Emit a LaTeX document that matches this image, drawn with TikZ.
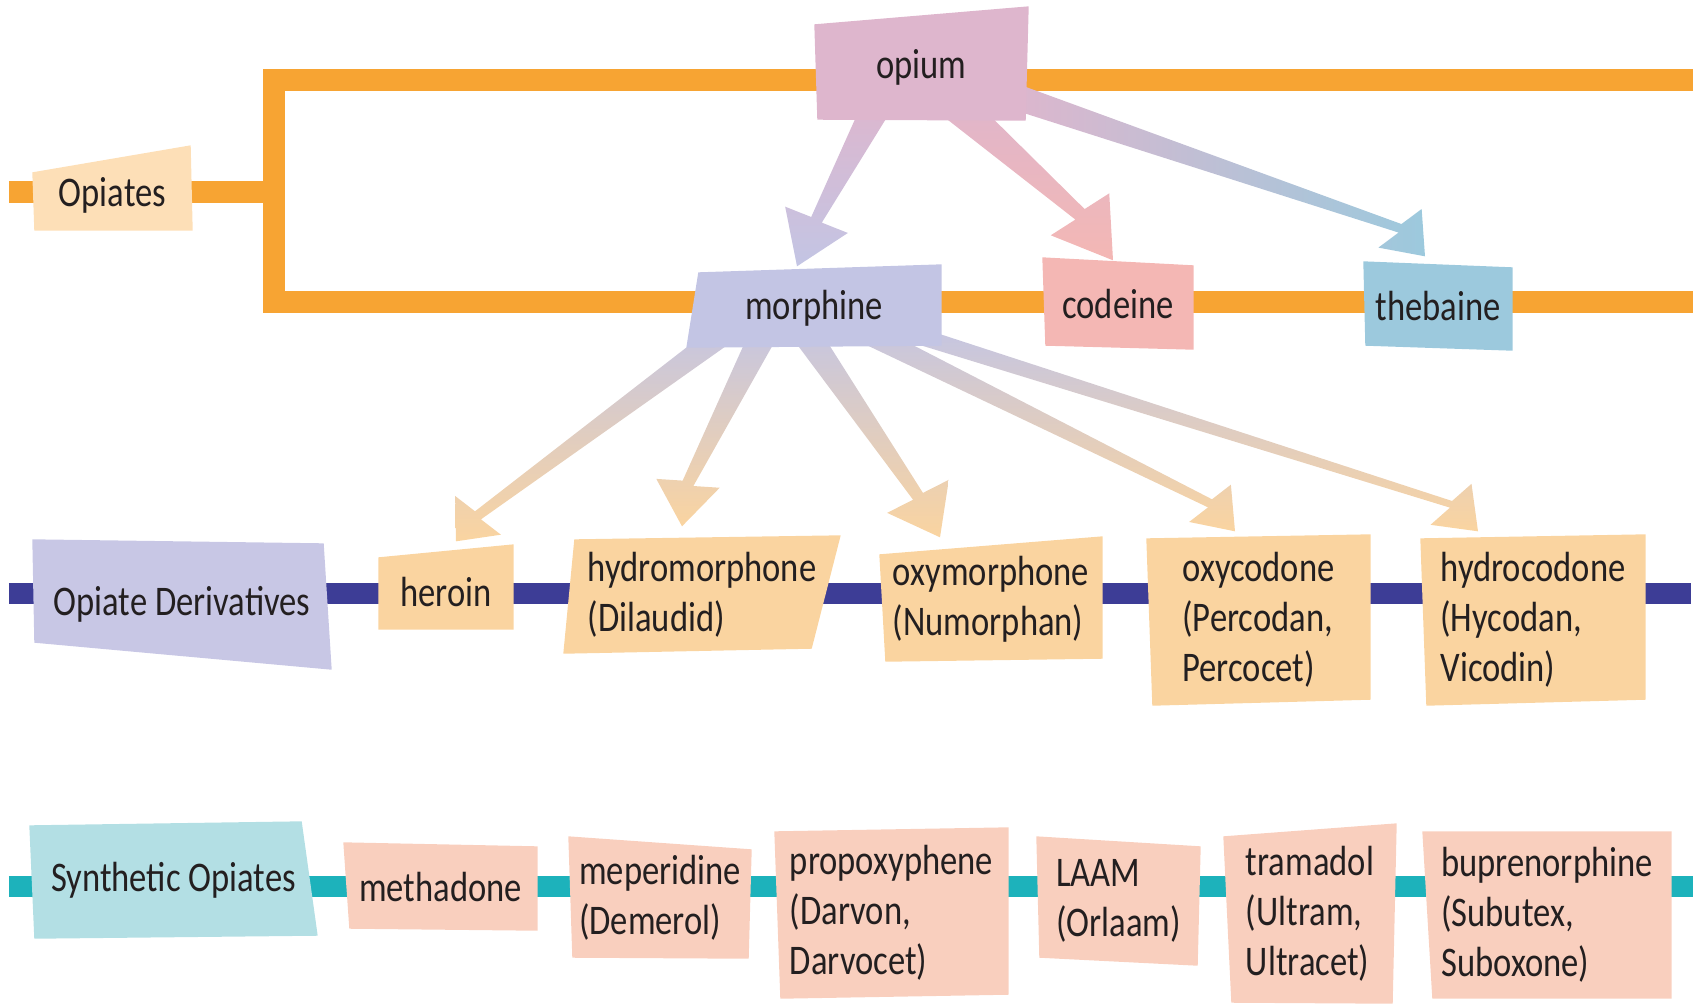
\documentclass[tikz,border=0pt]{standalone}
\usepackage{fontspec}
\setmainfont{Carlito}[FakeStretch=0.82]
\usetikzlibrary{calc}

\definecolor{railorange}{HTML}{F7A433}
\definecolor{railblue}{HTML}{3D3D96}
\definecolor{railteal}{HTML}{1DB2BB}
\definecolor{opiatesc}{HTML}{FDDFB7}
\definecolor{opiumc}{HTML}{DEB6CD}
\definecolor{morphc}{HTML}{C3C5E4}
\definecolor{codeinec}{HTML}{F4B7B4}
\definecolor{thebainec}{HTML}{9CC9DD}
\definecolor{derivc}{HTML}{C8C7E5}
\definecolor{derivboxc}{HTML}{FAD4A0}
\definecolor{synthc}{HTML}{B3DFE4}
\definecolor{synthboxc}{HTML}{F9CFBE}
\definecolor{inkc}{HTML}{231F20}

\pgfdeclarelayer{bars}
\pgfdeclarelayer{arrows}
\pgfdeclarelayer{boxes}
\pgfsetlayers{bars,arrows,boxes,main}

% slanted box behind a node: node, colour, corner shifts NW NE SE SW
\newcommand\skewbox[6]{%
  \begin{pgfonlayer}{boxes}
    \fill[#2] ($(#1.north west)+#3$) -- ($(#1.north east)+#4$)
      -- ($(#1.south east)+#5$) -- ($(#1.south west)+#6$) -- cycle;
  \end{pgfonlayer}}

% tapered arrow: shading, start, tip, head base (from tip), tail, neck, head half widths
\newcommand\fatarrow[7]{%
  \begin{pgfonlayer}{arrows}
    \coordinate (fa-s) at #2;
    \coordinate (fa-t) at #3;
    \coordinate (fa-b) at ($(fa-t)+#4$);
    \path[#1] ($(fa-s)!#5!90:(fa-b)$) -- ($(fa-b)!#6!-90:(fa-s)$)
      -- ($(fa-b)!#7!90:(fa-t)$) -- (fa-t) -- ($(fa-b)!#7!-90:(fa-t)$)
      -- ($(fa-b)!#6!90:(fa-s)$) -- ($(fa-s)!#5!-90:(fa-b)$) -- cycle;
  \end{pgfonlayer}}

\begin{document}
\begin{tikzpicture}[
        font=\fontsize{12}{14.2}\selectfont
    ]
    \tikzset{
        drug/.style = {align=left, inner sep=0pt, text=inkc},
        rail/.style = {line width=0.22cm, line cap=butt, line join=miter},
    }
    \useasboundingbox (0,0) rectangle (17,-10.06);
    %
    \node[drug, minimum width=1.59cm, minimum height=0.98cm] at (1.125,-1.95) (opiates) {Opiates};
    \node[drug, minimum width=2.13cm, minimum height=1.13cm] at (9.215,-0.675) (opium) {opium};
    \node[drug, minimum width=2.54cm, minimum height=0.82cm] at (8.14,-3.08) (morphine) {morphine};
    \node[drug, minimum width=1.50cm, minimum height=0.91cm] at (11.18,-3.035) (codeine) {codeine};
    \node[drug, minimum width=1.48cm, minimum height=0.88cm] at (14.38,-3.06) (thebaine) {thebaine};
    %
    \node[drug, minimum width=2.98cm, minimum height=1.29cm] at (1.82,-6.045) (derivs) {Opiate Derivatives};
    \node[drug, minimum width=1.34cm, minimum height=0.84cm] at (4.46,-5.92) (heroin) {heroin};
    \node[drug, minimum width=2.76cm, minimum height=1.17cm] at (7.02,-5.945) (hydromorph) {hydromorphone\\(Dilaudid)};
    \node[drug, minimum width=2.22cm, minimum height=1.24cm] at (9.91,-5.99) (oxymorph) {oxymorphone\\(Numorphan)};
    \node[drug, minimum width=2.23cm, minimum height=1.70cm] at (12.585,-6.20) (oxycodone) {oxycodone\\(Percodan,\\Percocet)};
    \node[drug, minimum width=2.24cm, minimum height=1.70cm] at (15.33,-6.20) (hydrocodone) {hydrocodone\\(Hycodan,\\Vicodin)};
    %
    \node[drug, minimum width=2.87cm, minimum height=1.16cm] at (1.735,-8.80) (synth) {Synthetic Opiates};
    \node[drug, minimum width=1.93cm, minimum height=0.87cm] at (4.405,-8.865) (methadone) {methadone};
    \node[drug, minimum width=1.82cm, minimum height=1.21cm] at (6.60,-8.975) (meperidine) {meperidine\\(Demerol)};
    \node[drug, minimum width=2.33cm, minimum height=1.70cm] at (8.915,-9.13) (propoxy) {propoxyphene\\(Darvon,\\Darvocet)};
    \node[drug, minimum width=1.63cm, minimum height=1.28cm] at (11.185,-9.01) (laam) {LAAM\\(Orlaam)};
    \node[drug, minimum width=1.72cm, minimum height=1.79cm] at (13.10,-9.135) (tramadol) {tramadol\\(Ultram,\\Ultracet)};
    \node[drug, minimum width=2.48cm, minimum height=1.66cm] at (15.47,-9.15) (bupren) {buprenorphine\\(Subutex,\\Suboxone)};
    %
    \skewbox{opiates}{opiatesc}{(0,-0.27)}{(-0.02,0)}{(0,0.14)}{(0.02,0.14)}
    \skewbox{opium}{opiumc}{(0,-0.14)}{(0,0.04)}{(-0.03,0.04)}{(0.03,0.05)}
    \skewbox{morphine}{morphc}{(0.12,-0.06)}{(0,0.02)}{(0,0.04)}{(0,0.02)}
    \skewbox{codeine}{codeinec}{(0,0)}{(0,-0.08)}{(0,0)}{(0.03,0.04)}
    \skewbox{thebaine}{thebainec}{(0,0)}{(0,-0.06)}{(0,0)}{(0.02,0.05)}
    %
    \skewbox{derivs}{derivc}{(0,0)}{(-0.08,-0.04)}{(0,0)}{(0.02,0.27)}
    \skewbox{heroin}{derivboxc}{(0,-0.08)}{(0,0.05)}{(0,0.05)}{(0,0.05)}
    \skewbox{hydromorph}{derivboxc}{(0.11,-0.04)}{(0,0)}{(-0.29,0.05)}{(0,0)}
    \skewbox{oxymorph}{derivboxc}{(0,-0.18)}{(0,0)}{(0,0.03)}{(0.06,0)}
    \skewbox{oxycodone}{derivboxc}{(0,-0.04)}{(0,0)}{(0,0.06)}{(0.06,0)}
    \skewbox{hydrocodone}{derivboxc}{(0,-0.04)}{(0,0)}{(0,0.06)}{(0.06,0)}
    %
    \skewbox{synth}{synthc}{(0,-0.04)}{(-0.16,0)}{(0,0.03)}{(0.05,0)}
    \skewbox{methadone}{synthboxc}{(0,0)}{(0,-0.04)}{(0,0)}{(0.06,0.02)}
    \skewbox{meperidine}{synthboxc}{(0,0)}{(0,-0.13)}{(-0.03,0)}{(0.04,0.01)}
    \skewbox{propoxy}{synthboxc}{(0,-0.04)}{(0,0)}{(0,0.04)}{(0.06,0)}
    \skewbox{laam}{synthboxc}{(0,0)}{(0,-0.10)}{(-0.03,0)}{(0.03,0.08)}
    \skewbox{tramadol}{synthboxc}{(0,-0.13)}{(0,0)}{(-0.04,0)}{(0.08,0.01)}
    \skewbox{bupren}{synthboxc}{(0,0)}{(0,0)}{(0,0)}{(0.10,0)}
    %
    \coordinate (orStub) at (0.09,-1.92);
    \coordinate (orJoin) at (2.735,-1.92);
    \coordinate (orTopL) at (2.735,-0.80);
    \coordinate (orTopR) at (16.93,-0.80);
    \coordinate (orBotL) at (2.735,-3.02);
    \coordinate (orBotR) at (16.93,-3.02);
    \coordinate (blueL) at (0.09,-5.935);
    \coordinate (blueR) at (16.91,-5.935);
    \coordinate (tealL) at (0.09,-8.865);
    \coordinate (tealR) at (16.93,-8.865);
    \begin{pgfonlayer}{bars}
    \draw[rail, railorange] (orTopR) -- (orTopL) -- (orBotL) -- (orBotR);
    \draw[rail, railorange] (orStub) -- (orJoin);
    \draw[rail, railblue, line width=0.21cm] (blueL) -- (blueR);
    \draw[rail, railteal, line width=0.21cm] (tealL) -- (tealR);
    \end{pgfonlayer}
    %
    \fatarrow{top color=opiumc, bottom color=morphc}{($(opium)+(-0.415,-0.325)$)}{($(morphine.north)+(-0.17,0.0)$)}{(0.195,0.465)}{0.15cm}{0.06cm}{0.34cm}
    \fatarrow{top color=opiumc, bottom color=codeinec}{($(opium)+(0.285,-0.325)$)}{($(codeine.north)+(-0.05,-0.03)$)}{(-0.33,0.46)}{0.17cm}{0.07cm}{0.36cm}
    \fatarrow{left color=opiumc, right color=thebainec}{($(opium)+(0.885,-0.275)$)}{($(thebaine.north)+(-0.13,0.05)$)}{(-0.25,0.28)}{0.13cm}{0.045cm}{0.29cm}
    %
    \fatarrow{top color=morphc, bottom color=derivboxc}{($(morphine)+(-0.79,-0.17)$)}{($(heroin.north)+(0.10,0.08)$)}{(0.22,0.26)}{0.12cm}{0.05cm}{0.30cm}
    \fatarrow{top color=morphc, bottom color=derivboxc}{($(morphine)+(-0.46,-0.17)$)}{($(hydromorph.north)+(-0.20,0.09)$)}{(0.06,0.43)}{0.14cm}{0.06cm}{0.32cm}
    \fatarrow{top color=morphc, bottom color=derivboxc}{($(morphine)+(-0.14,-0.17)$)}{($(oxymorph.north)+(-0.51,-0.01)$)}{(-0.22,0.41)}{0.14cm}{0.06cm}{0.35cm}
    \fatarrow{top color=morphc, bottom color=derivboxc}{($(morphine)+(0.36,-0.17)$)}{($(oxycodone.north)+(-0.235,0.03)$)}{(-0.25,0.28)}{0.11cm}{0.045cm}{0.28cm}
    \fatarrow{top color=morphc, bottom color=derivboxc}{($(morphine)+(0.86,-0.22)$)}{($(hydrocodone.north)+(-0.55,0.03)$)}{(-0.27,0.27)}{0.085cm}{0.035cm}{0.29cm}
\end{tikzpicture}
\end{document}
